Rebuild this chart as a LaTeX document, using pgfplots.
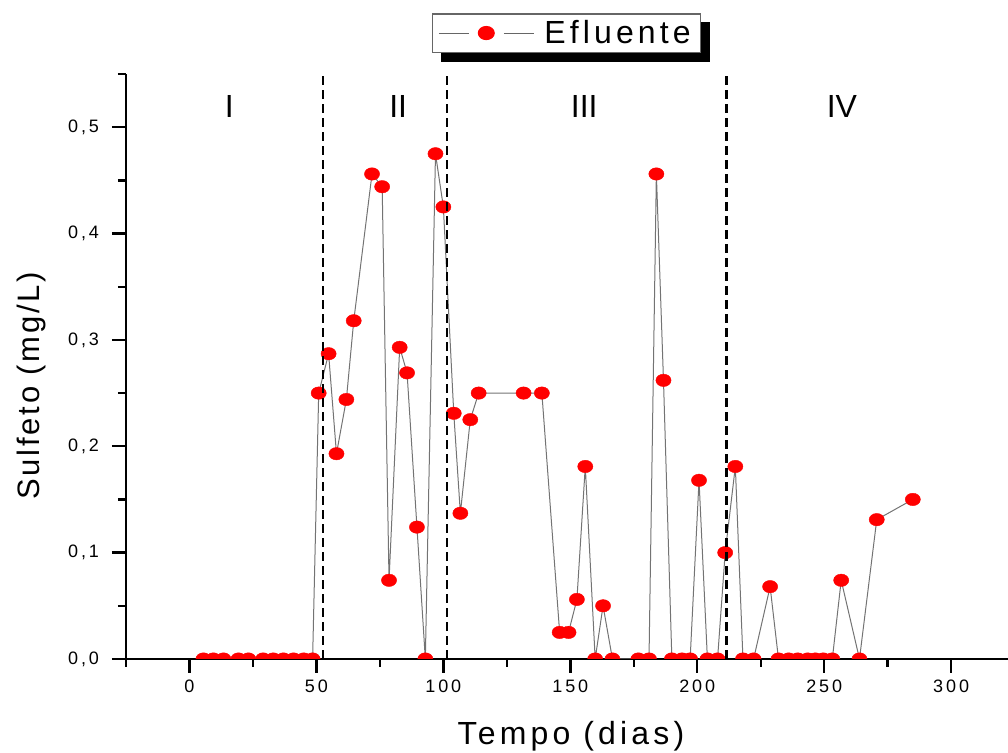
\documentclass[border=0pt]{standalone}
\usepackage{fontspec}
\setmainfont{Liberation Sans}
\newfontfamily\spaced[LetterSpace=13]{Liberation Sans}
\newfontfamily\yspaced[LetterSpace=9]{Liberation Sans}
\newfontfamily\tickfont[LetterSpace=16]{Liberation Sans}
\usepackage{pgfplots}
\pgfplotsset{compat=1.18}
\usetikzlibrary{backgrounds}

\begin{document}
\begin{tikzpicture}
\begin{axis}[
  at={(63pt,47pt)}, anchor=south west,
  scale only axis, width=441pt, height=292.5pt,
  xmin=-25, xmax=322.4, ymin=0, ymax=0.55,
  axis lines*=left,
  axis line style={line width=1pt},
  xtick={0,50,100,150,200,250,300},
  minor xtick={-25,25,75,125,175,225,275},
  ytick={0,0.1,0.2,0.3,0.4,0.5},
  minor ytick={0.05,0.15,0.25,0.35,0.45,0.55},
  tick align=outside,
  major tick length=7pt, minor tick length=4pt,
  tick style={black, line width=1.2pt},
  /pgf/number format/assume math mode=true,
  ticklabel style={font=\tickfont\fontsize{9}{10}\selectfont},
  yticklabel style={xshift=-3pt, /pgf/number format/.cd, fixed, fixed zerofill, precision=1, use comma},
  clip marker paths=true,
  xlabel={Tempo (dias)},
  xlabel style={font=\spaced\fontsize{16}{18}\selectfont,
    at={(axis description cs:0.5045,-0.147)}, anchor=base},
  ylabel={Sulfeto (mg/L)},
  ylabel style={font=\yspaced\fontsize{15.5}{18}\selectfont,
    at={(axis description cs:-0.098,0.467)}, anchor=base},
  legend style={name=leg, at={(0.4995,1.070)}, anchor=center,
    draw=black!60, line width=0.6pt, fill=white,
    inner xsep=3pt, inner ysep=1pt,
    font=\spaced\fontsize{16}{18}\selectfont,
    /tikz/column 1/.style={column sep=3pt}},
  legend image code/.code={
    \draw[black!60, line width=0.5pt] (0pt,0pt) -- (15pt,0pt);
    \draw[black!60, line width=0.5pt] (32.5pt,0pt) -- (47.5pt,0pt);
    \fill[red] (23.75pt,0pt) ellipse [x radius=4pt, y radius=3.3pt];
  },
]
\addplot[black!55, line width=0.5pt, mark=*, mark size=3.8pt,
  mark options={fill=red, draw=red, line width=0.2pt, yscale=0.82}]
  coordinates {
  (5.5,0) (9.4,0) (13.4,0) (19.3,0) (23.2,0) (29,0) (33,0) (37,0) (41,0) (45,0) (48.5,0)
  (50.9,0.250) (54.8,0.287) (57.9,0.193) (61.8,0.244) (64.7,0.318) (71.9,0.456)
  (75.9,0.444) (78.6,0.074) (82.8,0.293) (85.7,0.269) (89.6,0.124) (92.9,0)
  (96.9,0.475) (100,0.425) (104.1,0.231) (106.7,0.137) (110.6,0.225) (113.9,0.250)
  (131.6,0.250) (138.8,0.250) (145.8,0.025) (149.3,0.025) (152.6,0.056) (155.9,0.181)
  (159.8,0) (162.9,0.050) (166.6,0) (176.8,0) (181,0) (183.9,0.456) (186.7,0.262)
  (190,0) (194,0) (197.2,0) (200.7,0.168) (204,0) (208,0) (211,0.100) (215,0.181)
  (218,0) (222.2,0) (228.7,0.068) (232,0) (236,0) (239.6,0) (243.5,0) (246.5,0)
  (249.6,0) (253.2,0) (256.7,0.074) (263.9,0) (270.7,0.131) (284.9,0.150)
  };
\addlegendentry{Efluente}
\addplot[black, line width=1.4pt, dash pattern=on 4.5pt off 2.5pt, forget plot]
  coordinates {(52.6,0) (52.6,0.55)};
\addplot[black, line width=1.4pt, dash pattern=on 4.5pt off 2.5pt, forget plot]
  coordinates {(101.4,0) (101.4,0.55)};
\addplot[black, line width=1.4pt, dash pattern=on 4.5pt off 2.5pt, forget plot]
  coordinates {(211.4,0) (211.4,0.55)};
\node[font=\fontsize{16}{18}\selectfont] at (axis cs:15.7,0.519) {I};
\node[font=\fontsize{16}{18}\selectfont] at (axis cs:82.2,0.519) {II};
\node[font=\fontsize{16}{18}\selectfont] at (axis cs:155.5,0.519) {III};
\node[font=\fontsize{16}{18}\selectfont] at (axis cs:257,0.519) {IV};
\end{axis}
% legend shadow
\begin{scope}[on background layer]
\fill[black] ([shift={(4.5pt,-4.5pt)}]leg.south west) rectangle ([shift={(4.5pt,-4.5pt)}]leg.north east);
\end{scope}
\pgfresetboundingbox
\useasboundingbox (0,0) rectangle (504pt,376.5pt);
\end{tikzpicture}
\end{document}
